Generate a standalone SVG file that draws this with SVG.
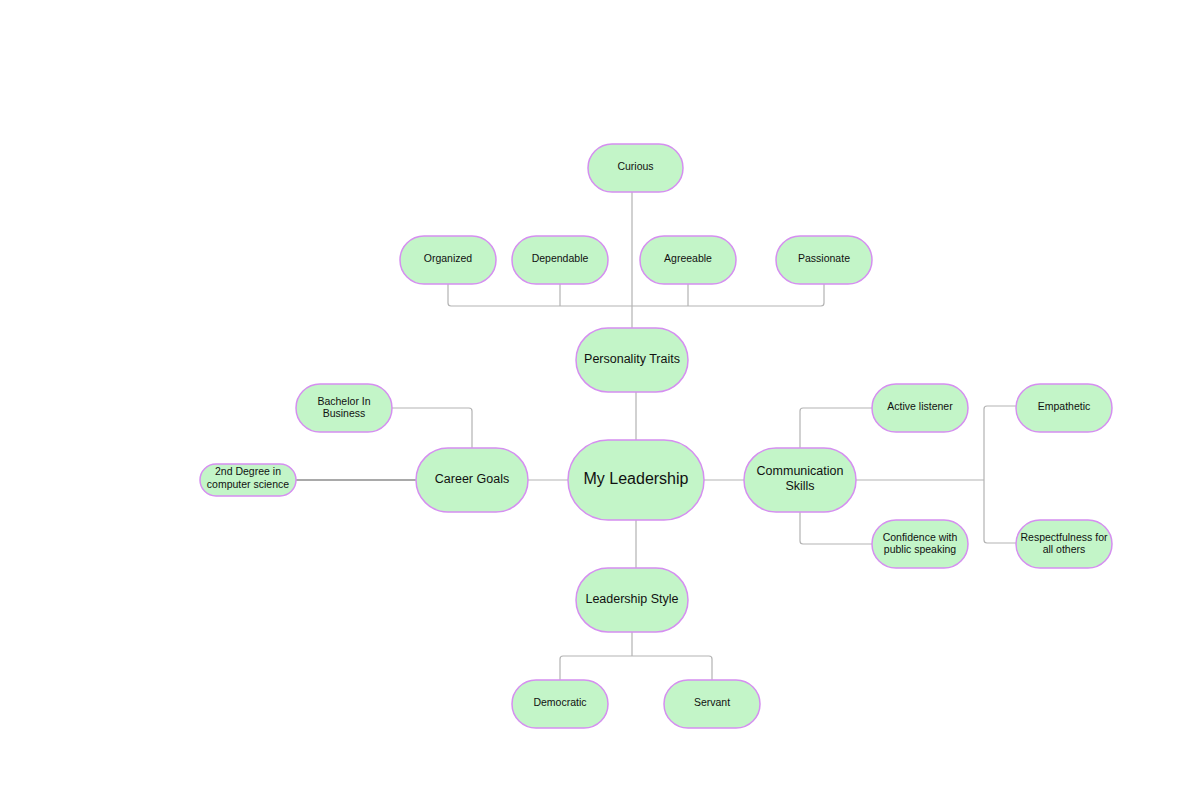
<svg xmlns="http://www.w3.org/2000/svg" width="1200" height="800" viewBox="0 0 1200 800">
<style>
.n{fill:#c3f5c8;stroke:#d58ff0;stroke-width:1.5}
.t{font-family:"Liberation Sans",Arial,sans-serif;fill:#111;text-anchor:middle}
.s{font-size:10.5px}
.m{font-size:12.5px}
.c{fill:none;stroke:#b3b3b3;stroke-width:1.2}
.d{fill:none;stroke:#8c8c8c;stroke-width:1.6}
</style>
<rect width="1200" height="800" fill="#ffffff"/>
<g id="connectors">
<path class="c" d="M632 192 V328"/>
<path class="c" d="M448 284 V303 Q448 306 451 306 H821 Q824 306 824 303 V284"/>
<path class="c" d="M560 284 V306"/>
<path class="c" d="M688 284 V306"/>
<path class="c" d="M636 392 V440"/>
<path class="c" d="M528 480 H568"/>
<path class="c" d="M704 480 H744"/>
<path class="c" d="M636 520 V568"/>
<path class="c" d="M392 408 H469 Q472 408 472 411 V448"/>
<path class="d" d="M296 480 H416"/>
<path class="c" d="M800 448 V411 Q800 408 803 408 H872"/>
<path class="c" d="M800 512 V541 Q800 544 803 544 H872"/>
<path class="c" d="M856 480 H984"/>
<path class="c" d="M1016 406 H987 Q984 406 984 409 V540 Q984 543 987 543 H1016"/>
<path class="c" d="M632 632 V656"/>
<path class="c" d="M560 680 V659 Q560 656 563 656 H709 Q712 656 712 659 V680"/>
</g>
<g id="curious"><rect class="n" x="588" y="144" width="95" height="48" rx="24"/><text class="t s" x="635.5" y="169.8">Curious</text></g>
<g id="organized"><rect class="n" x="400" y="236" width="96" height="48" rx="24"/><text class="t s" x="448" y="262">Organized</text></g>
<g id="dependable"><rect class="n" x="512" y="236" width="96" height="48" rx="24"/><text class="t s" x="560" y="262">Dependable</text></g>
<g id="agreeable"><rect class="n" x="640" y="236" width="96" height="48" rx="24"/><text class="t s" x="688" y="262">Agreeable</text></g>
<g id="passionate"><rect class="n" x="776" y="236" width="96" height="48" rx="24"/><text class="t s" x="824" y="262">Passionate</text></g>
<g id="personality-traits"><rect class="n" x="576" y="328" width="112" height="64" rx="32"/><text class="t m" x="632" y="362.6">Personality Traits</text></g>
<g id="my-leadership"><rect class="n" x="568" y="440" width="136" height="80" rx="40"/><text class="t" style="font-size:16px" x="636" y="484">My Leadership</text></g>
<g id="career-goals"><rect class="n" x="416" y="448" width="112" height="64" rx="32"/><text class="t m" x="472" y="482.5">Career Goals</text></g>
<g id="bachelor"><rect class="n" x="296" y="384" width="96" height="48" rx="24"/><text class="t s" x="344" y="404.5">Bachelor In</text><text class="t s" x="344" y="417">Business</text></g>
<g id="second-degree"><rect class="n" x="200" y="464" width="96" height="32" rx="16"/><text class="t s" x="248" y="474.5">2nd Degree in</text><text class="t s" x="248" y="487.5">computer science</text></g>
<g id="communication-skills"><rect class="n" x="744" y="448" width="112" height="64" rx="32"/><text class="t m" x="800" y="475.3">Communication</text><text class="t m" x="800" y="490">Skills</text></g>
<g id="active-listener"><rect class="n" x="872" y="384" width="96" height="48" rx="24"/><text class="t s" x="920" y="409.8">Active listener</text></g>
<g id="confidence"><rect class="n" x="872" y="520" width="96" height="48" rx="24"/><text class="t s" x="920" y="540.5">Confidence with</text><text class="t s" x="920" y="552.8">public speaking</text></g>
<g id="empathetic"><rect class="n" x="1016" y="384" width="96" height="48" rx="24"/><text class="t s" x="1064" y="409.8">Empathetic</text></g>
<g id="respectfulness"><rect class="n" x="1016" y="520" width="96" height="48" rx="24"/><text class="t s" x="1064" y="540.5">Respectfulness for</text><text class="t s" x="1064" y="552.8">all others</text></g>
<g id="leadership-style"><rect class="n" x="576" y="568" width="112" height="64" rx="32"/><text class="t m" x="632" y="602.5">Leadership Style</text></g>
<g id="democratic"><rect class="n" x="512" y="680" width="96" height="48" rx="24"/><text class="t s" x="560" y="706">Democratic</text></g>
<g id="servant"><rect class="n" x="664" y="680" width="96" height="48" rx="24"/><text class="t s" x="712" y="706">Servant</text></g>
</svg>
